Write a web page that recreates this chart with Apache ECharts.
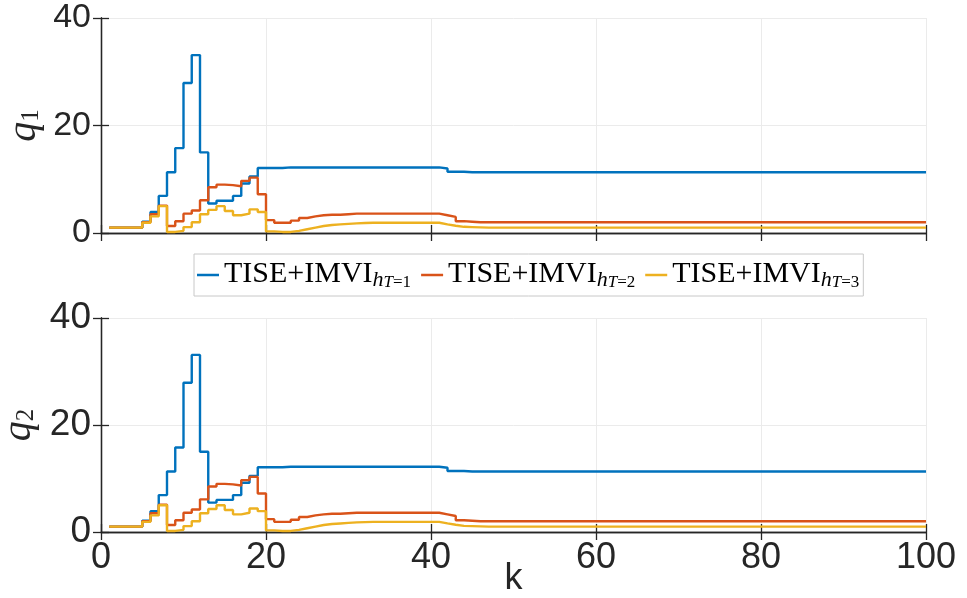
<!DOCTYPE html>
<html>
<head>
<meta charset="utf-8">
<script src="https://cdn.jsdelivr.net/npm/echarts@6/dist/echarts.min.js"></script>
<style>
  html, body { margin: 0; padding: 0; background: #fff; }
  #chart { width: 967px; height: 598px; }
</style>
</head>
<body>
<div id="chart"></div>
<script>
// Time steps k = 1 .. 100
const kSteps = [];
for (let k = 1; k <= 100; k++) kSteps.push(k);

// Series names (legend labels are formatted as TISE+IMVI with subscript h_{T=n})
const seriesNames = ['TISE+IMVI h_T=1', 'TISE+IMVI h_T=2', 'TISE+IMVI h_T=3'];
const seriesColors = ['#0072BD', '#D95319', '#EDB120'];

// h_T = 1
const valuesH1 = [
  1, 1, 1, 1, 2.1, 3.9, 6.9, 11.3, 15.8, 27.9,
  33.1, 15.0, 5.5, 6.0, 6.0, 6.9, 9.2, 10.5, 12.1, 12.1,
  12.1, 12.2, 12.2, 12.2, 12.2, 12.2, 12.2, 12.2, 12.2, 12.2,
  12.2, 12.2, 12.2, 12.2, 12.2, 12.2, 12.2, 12.2, 12.2, 12.2,
  12.0, 11.4, 11.4, 11.3, 11.3, 11.3, 11.3, 11.3, 11.3, 11.3,
  11.3, 11.3, 11.3, 11.3, 11.3, 11.3, 11.3, 11.3, 11.3, 11.3,
  11.3, 11.3, 11.3, 11.3, 11.3, 11.3, 11.3, 11.3, 11.3, 11.3,
  11.3, 11.3, 11.3, 11.3, 11.3, 11.3, 11.3, 11.3, 11.3, 11.3,
  11.3, 11.3, 11.3, 11.3, 11.3, 11.3, 11.3, 11.3, 11.3, 11.3,
  11.3, 11.3, 11.3, 11.3, 11.3, 11.3, 11.3, 11.3, 11.3, 11.3
];

// h_T = 2
const valuesH2 = [
  1, 1, 1, 1, 2.0, 3.5, 5.1, 1.3, 2.2, 3.6,
  4.2, 6.1, 8.5, 9.0, 8.9, 8.7, 9.7, 10.3, 7.2, 2.4,
  1.9, 1.9, 2.3, 2.8, 3.1, 3.3, 3.4, 3.4, 3.5, 3.6,
  3.6, 3.6, 3.6, 3.6, 3.6, 3.6, 3.6, 3.6, 3.6, 3.6,
  3.3, 3.0, 2.2, 2.1, 2.0, 2.0, 2.0, 2.0, 2.0, 2.0,
  2.0, 2.0, 2.0, 2.0, 2.0, 2.0, 2.0, 2.0, 2.0, 2.0,
  2.0, 2.0, 2.0, 2.0, 2.0, 2.0, 2.0, 2.0, 2.0, 2.0,
  2.0, 2.0, 2.0, 2.0, 2.0, 2.0, 2.0, 2.0, 2.0, 2.0,
  2.0, 2.0, 2.0, 2.0, 2.0, 2.0, 2.0, 2.0, 2.0, 2.0,
  2.0, 2.0, 2.0, 2.0, 2.0, 2.0, 2.0, 2.0, 2.0, 2.0
];

// h_T = 3
const valuesH3 = [
  1, 1, 1, 1, 1.9, 3.1, 5.0, 0.2, 0.4, 1.1,
  2.0, 3.5, 4.3, 5.0, 4.1, 3.3, 3.6, 4.4, 3.9, 0.3,
  0.2, 0.2, 0.4, 0.7, 1.0, 1.3, 1.5, 1.6, 1.7, 1.8,
  1.85, 1.9, 1.9, 1.9, 1.9, 1.9, 1.9, 1.9, 1.9, 1.9,
  1.6, 1.35, 1.15, 1.1, 1.05, 1.0, 1.0, 1.0, 1.0, 1.0,
  1.0, 1.0, 1.0, 1.0, 1.0, 1.0, 1.0, 1.0, 1.0, 1.0,
  1.0, 1.0, 1.0, 1.0, 1.0, 1.0, 1.0, 1.0, 1.0, 1.0,
  1.0, 1.0, 1.0, 1.0, 1.0, 1.0, 1.0, 1.0, 1.0, 1.0,
  1.0, 1.0, 1.0, 1.0, 1.0, 1.0, 1.0, 1.0, 1.0, 1.0,
  1.0, 1.0, 1.0, 1.0, 1.0, 1.0, 1.0, 1.0, 1.0, 1.0
];

// Both states q1 and q2 follow the same trajectories
const panelValues = [
  [valuesH1, valuesH2, valuesH3],
  [valuesH1, valuesH2, valuesH3]
];

const xTicks = [0, 20, 40, 60, 80, 100];
const yTicks = [0, 20, 40];
const legendSub = ['1', '2', '3'];

const axisColor = '#262626';
const gridColor = '#ebebeb';
const frameLine = { show: true, lineStyle: { color: axisColor, width: 1.3 } };
const innerTick = { show: true, inside: true, length: 8, lineStyle: { color: axisColor, width: 1.3 } };

const grids = [
  { left: 101, top: 18, width: 825, height: 215, containLabel: false, outerBoundsMode: 'none' },
  { left: 101, top: 318, width: 825, height: 214, containLabel: false, outerBoundsMode: 'none' }
];

const xAxes = [];
const yAxes = [];
const series = [];

grids.forEach((g, gi) => {
  const isBottom = gi === 1;
  const labelSize = isBottom ? 37 : 34;
  // bottom x axis
  xAxes.push({
    type: 'value', gridIndex: gi,
    min: xTicks[0], max: xTicks[xTicks.length - 1], interval: 20,
    axisLine: frameLine, axisTick: innerTick,
    splitLine: { show: true, lineStyle: { color: gridColor, width: 1 } },
    axisLabel: {
      show: isBottom, margin: 8,
      fontFamily: 'Liberation Sans', fontSize: 36, color: axisColor
    },
    name: isBottom ? 'k' : '',
    nameLocation: 'middle', nameGap: 29,
    nameMoveOverlap: false,
    nameTextStyle: { fontFamily: 'Liberation Sans', fontSize: 36, color: axisColor }
  });
  // top frame edge
  xAxes.push({
    type: 'value', gridIndex: gi, position: 'top',
    min: xTicks[0], max: xTicks[xTicks.length - 1], interval: 20,
    axisLine: frameLine, axisTick: innerTick,
    splitLine: { show: false }, axisLabel: { show: false }
  });
  // left y axis
  yAxes.push({
    type: 'value', gridIndex: gi,
    min: yTicks[0], max: yTicks[yTicks.length - 1], interval: 20,
    axisLine: frameLine, axisTick: innerTick,
    splitLine: { show: true, lineStyle: { color: gridColor, width: 1 } },
    axisLabel: {
      margin: 10, fontFamily: 'Liberation Sans', fontSize: labelSize, color: axisColor
    },
    name: '{q|q}{s|' + (gi + 1) + '}',
    nameLocation: 'middle',
    nameGap: isBottom ? 62 : 57,
    nameMoveOverlap: false,
    nameTextStyle: {
      color: axisColor,
      rich: {
        q: { fontFamily: 'Liberation Serif', fontStyle: 'italic', fontSize: 40, lineHeight: 40, verticalAlign: 'top', color: axisColor },
        s: { fontFamily: 'Liberation Serif', fontSize: 25, lineHeight: 31, verticalAlign: 'bottom', color: axisColor }
      }
    }
  });
  // right frame edge
  yAxes.push({
    type: 'value', gridIndex: gi, position: 'right',
    min: yTicks[0], max: yTicks[yTicks.length - 1], interval: 20,
    axisLine: frameLine, axisTick: innerTick,
    splitLine: { show: false }, axisLabel: { show: false }
  });

  panelValues[gi].forEach((vals, si) => {
    series.push({
      name: seriesNames[si],
      type: 'line',
      step: 'end',
      xAxisIndex: gi * 2,
      yAxisIndex: gi * 2,
      showSymbol: false,
      symbol: 'none',
      lineStyle: { color: seriesColors[si], width: 2.4 },
      itemStyle: { color: seriesColors[si] },
      data: kSteps.map((k, i) => [k, vals[i]])
    });
  });
});

const chart = echarts.init(document.getElementById('chart'), null, { renderer: 'canvas' });
chart.setOption({
  animation: false,
  backgroundColor: '#ffffff',
  grid: grids,
  xAxis: xAxes,
  yAxis: yAxes,
  legend: {
    data: seriesNames,
    left: 194, top: 254,
    orient: 'horizontal',
    icon: 'rect',
    itemWidth: 22, itemHeight: 2.5,
    itemGap: 10,
    padding: [5, 4, 5, 3],
    borderColor: '#c8c8c8', borderWidth: 1,
    backgroundColor: '#ffffff',
    formatter: name => {
      const n = legendSub[seriesNames.indexOf(name)];
      return '{b|TISE+IMVI}{h|h}{t|T}{e|=' + n + '}';
    },
    textStyle: {
      rich: {
        b: { fontFamily: 'Liberation Serif', fontSize: 30, lineHeight: 32, verticalAlign: 'top', color: '#000' },
        h: { fontFamily: 'Liberation Serif', fontStyle: 'italic', fontSize: 22, lineHeight: 23, verticalAlign: 'bottom', color: '#000' },
        t: { fontFamily: 'Liberation Serif', fontStyle: 'italic', fontSize: 17, lineHeight: 18, verticalAlign: 'bottom', color: '#000' },
        e: { fontFamily: 'Liberation Serif', fontSize: 17, lineHeight: 18, verticalAlign: 'bottom', color: '#000' }
      }
    }
  },
  series: series
});
</script>
</body>
</html>
